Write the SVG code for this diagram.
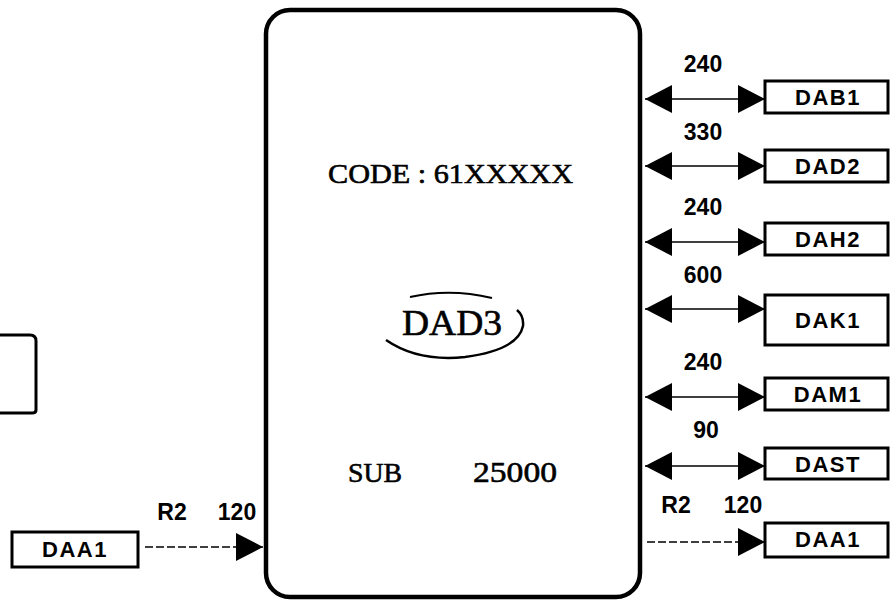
<svg xmlns="http://www.w3.org/2000/svg" width="894" height="601" viewBox="0 0 894 601">
<defs>
<marker id="ah" viewBox="0 0 27 30" refX="27" refY="15" markerWidth="27" markerHeight="30" markerUnits="userSpaceOnUse" orient="auto-start-reverse">
<path d="M0,1 L27,15 L0,29 z" fill="#000"/>
</marker>
<style>
.box{fill:#fff;stroke:#000;stroke-width:3}
.lbl{font-family:"Liberation Sans",Arial,sans-serif;font-weight:bold;font-size:22px;letter-spacing:1.5px;text-anchor:middle;fill:#000}
.num{font-family:"Liberation Sans",Arial,sans-serif;font-weight:bold;font-size:23px;text-anchor:middle;fill:#000}
.ser{font-family:"Liberation Serif","Times New Roman",serif;fill:#000;stroke:#000;stroke-width:0.6}
.ln{stroke:#000;stroke-width:1.5;fill:none}
.dash{stroke-dasharray:8 3}
</style>
</defs>
<rect width="894" height="601" fill="#fff"/>

<g id="main">
<rect x="266" y="10" width="374" height="587" rx="24" ry="24" fill="#fff" stroke="#000" stroke-width="4.5"/>
<text class="ser" x="328" y="183" font-size="28" textLength="245" lengthAdjust="spacingAndGlyphs">CODE : 61XXXXX</text>
<text class="ser" x="402" y="335" font-size="36" textLength="100" lengthAdjust="spacingAndGlyphs">DAD3</text>
<path d="M410,297 Q450,288 492,298" fill="none" stroke="#000" stroke-width="2"/>
<path d="M386,340 Q418,362 465,357 Q518,350 523,326 Q524,316 517,310" fill="none" stroke="#000" stroke-width="2.5"/>
<text class="ser" x="348" y="482" font-size="28" textLength="54" lengthAdjust="spacingAndGlyphs">SUB</text>
<text class="ser" x="473" y="482" font-size="30" textLength="84" lengthAdjust="spacingAndGlyphs">25000</text>
</g>

<g id="partial-left">
<path d="M-5,335 L30,335 Q36,335 36,341 L36,410 Q36,413 32,413 L-5,413" fill="none" stroke="#000" stroke-width="3"/>
</g>

<g id="DAA1-left">
<rect class="box" x="12" y="532" width="126" height="35"/>
<text class="lbl" x="75" y="557">DAA1</text>
</g>

<g id="DAB1">
<rect class="box" x="765" y="81" width="123" height="32"/>
<text class="lbl" x="828" y="105">DAB1</text>
</g>
<g id="DAD2">
<rect class="box" x="765" y="150" width="123" height="32"/>
<text class="lbl" x="828" y="174">DAD2</text>
</g>
<g id="DAH2">
<rect class="box" x="765" y="223" width="123" height="32"/>
<text class="lbl" x="828" y="247">DAH2</text>
</g>
<g id="DAK1">
<rect class="box" x="765" y="295" width="123" height="50"/>
<text class="lbl" x="828" y="328">DAK1</text>
</g>
<g id="DAM1">
<rect class="box" x="765" y="378" width="123" height="32"/>
<text class="lbl" x="828" y="402">DAM1</text>
</g>
<g id="DAST">
<rect class="box" x="765" y="448" width="123" height="31"/>
<text class="lbl" x="828" y="472">DAST</text>
</g>
<g id="DAA1-right">
<rect class="box" x="765" y="523" width="123" height="34"/>
<text class="lbl" x="828" y="547">DAA1</text>
</g>

<g id="connectors">
<line class="ln" x1="645" y1="99" x2="765" y2="99" marker-start="url(#ah)" marker-end="url(#ah)"/>
<line class="ln" x1="645" y1="166" x2="765" y2="166" marker-start="url(#ah)" marker-end="url(#ah)"/>
<line class="ln" x1="645" y1="242" x2="765" y2="242" marker-start="url(#ah)" marker-end="url(#ah)"/>
<line class="ln" x1="645" y1="309" x2="765" y2="309" marker-start="url(#ah)" marker-end="url(#ah)"/>
<line class="ln" x1="645" y1="397" x2="765" y2="397" marker-start="url(#ah)" marker-end="url(#ah)"/>
<line class="ln" x1="645" y1="466" x2="765" y2="466" marker-start="url(#ah)" marker-end="url(#ah)"/>
<line class="ln dash" x1="647" y1="542" x2="765" y2="542" marker-end="url(#ah)"/>
<line class="ln dash" x1="145" y1="547" x2="263" y2="547" marker-end="url(#ah)"/>
<text class="num" x="703" y="72">240</text>
<text class="num" x="703" y="140">330</text>
<text class="num" x="703" y="215">240</text>
<text class="num" x="703" y="283">600</text>
<text class="num" x="703" y="370">240</text>
<text class="num" x="706" y="438">90</text>
<text class="num" x="676" y="513">R2</text>
<text class="num" x="743" y="513">120</text>
<text class="num" x="172" y="520">R2</text>
<text class="num" x="237" y="520">120</text>
</g>
</svg>
